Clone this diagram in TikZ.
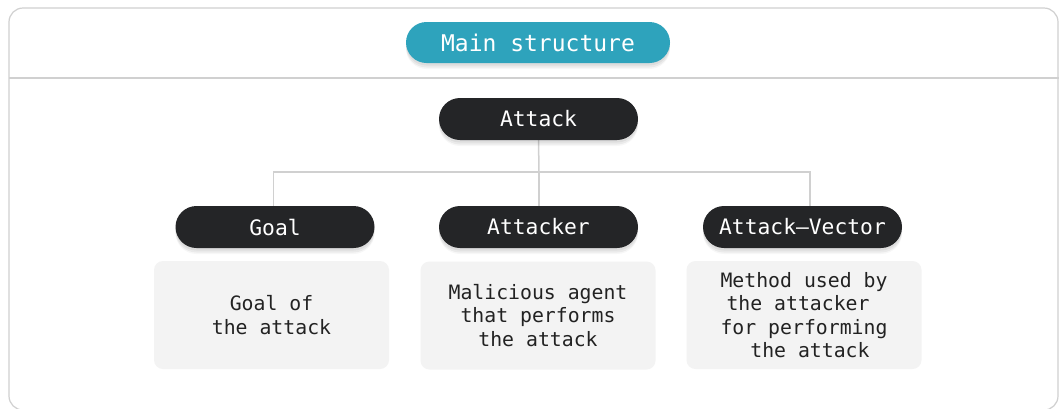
\documentclass[tikz,border=0pt]{standalone}
\usepackage{fontspec}
\newfontfamily\monofont{DejaVu Sans Mono}
\usetikzlibrary{backgrounds}
\definecolor{headteal}{RGB}{46,163,188}
\definecolor{pilldark}{RGB}{36,37,39}
\definecolor{cardfill}{RGB}{243,243,243}
\definecolor{rulegray}{RGB}{208,208,208}
\definecolor{inktext}{RGB}{34,34,34}
\tikzset{
  pillshadow/.style={
      preaction={fill=black, fill opacity=0.05, transform canvas={yshift=-2.5pt}},
      preaction={fill=black, fill opacity=0.05, transform canvas={yshift=-4.5pt}},
      preaction={fill=black, fill opacity=0.03, transform canvas={yshift=-6pt}}},
  titlepill/.style={fill=headteal, text=white, rounded corners=20.5pt,
      minimum width=264pt, minimum height=41pt, inner sep=0pt, pillshadow,
      font=\monofont\fontsize{23}{27}\selectfont},
  headpill/.style={fill=pilldark, text=white, rounded corners=21pt,
      minimum width=199pt, minimum height=42pt, inner sep=0pt, pillshadow,
      font=\monofont\fontsize{21.3}{25}\selectfont},
  card/.style={fill=cardfill, text=inktext, rounded corners=9pt,
      minimum width=235pt, minimum height=108pt, inner sep=0pt, align=center,
      font=\monofont\fontsize{19.8}{23.5}\selectfont},
  link/.style={draw=rulegray, line width=1.5pt},
  frame/.style={draw=rulegray, line width=1.2pt}
}
\begin{document}
\begin{tikzpicture}[x=1pt,y=-1pt]
\useasboundingbox (0,0) rectangle (1059,408);

% heading
\node[titlepill] (title) at (538,42.5) {Main structure};

% tree nodes
\node[headpill] (attack)   at (538.5,119) {Attack};
\node[headpill] (goal)     at (275,227)   {Goal};
\node[headpill] (attacker) at (538.5,227) {Attacker};
\node[headpill] (vector)   at (802.5,227) {Attack–Vector};

% description cards
\node[card] (goaldesc)     at (271.5,315) {Goal of\\the attack};
\node[card] (attackerdesc) at (538,315.5) {Malicious agent\\that performs\\the attack};
\node[card] (vectordesc)   at (804,315)   {Method used by\\the attacker\hphantom{x}\\for performing\\\hphantom{x}the attack};

% connectors
\coordinate (bus) at (539,172);
\coordinate (goaltop) at (273.5,206);
\coordinate (vectortop) at (810,206);
\begin{scope}[on background layer]
  % page, outer panel and the rule under its heading
  \fill[white] (0,0) rectangle (1059,408);
  \draw[frame, rounded corners=14pt] (9,8) rectangle (1058,410);
  \draw[frame] (9,78) -- (1059,78);
  % tree lines
  \draw[link] (attack.south) -- (bus);
  \draw[link] (bus) -- (bus |- attacker.north);
  \draw[link] (goaltop) |- (bus) -| (vectortop);
\end{scope}
\end{tikzpicture}
\end{document}
